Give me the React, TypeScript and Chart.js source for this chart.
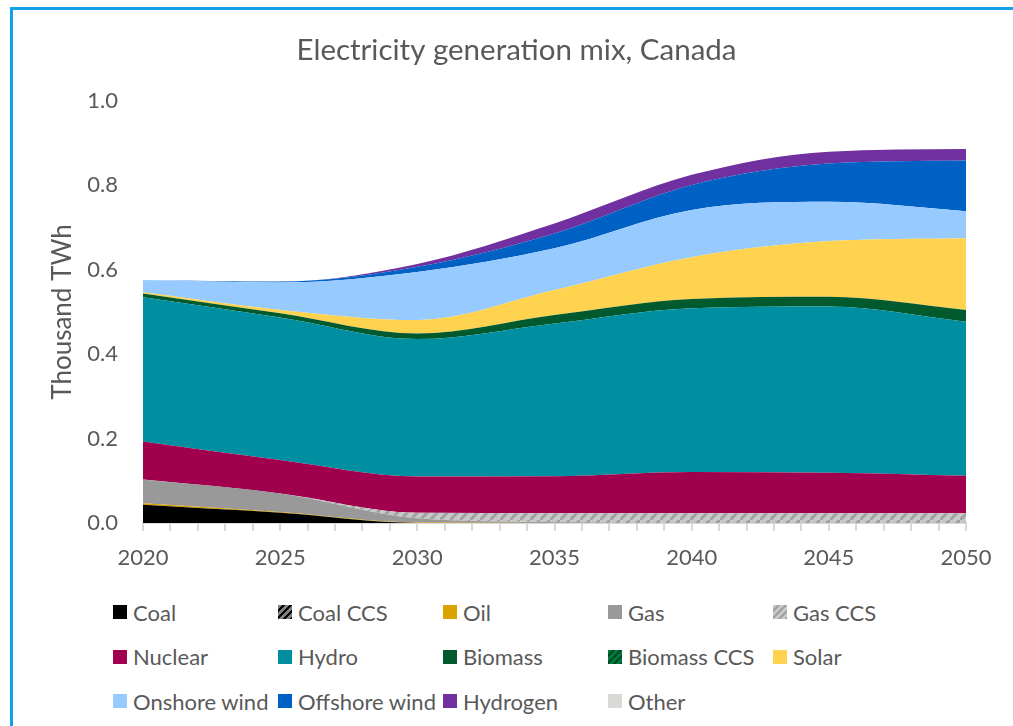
import React, { useEffect, useRef } from "react";
import { Chart, registerables } from "chart.js";

Chart.register(...registerables);

const TITLE = "Electricity generation mix, Canada";
const Y_TITLE = "Thousand TWh";
const years = [2020, 2025, 2030, 2035, 2040, 2045, 2050];

const coal = [0.043, 0.024, 0, 0, 0, 0, 0];
const coalCcs = [0, 0, 0, 0, 0, 0, 0];
const oil = [0.004, 0.002, 0.001, 0, 0, 0, 0];
const gas = [0.056, 0.044, 0.01, 0.002, 0, 0, 0];
const gasCcs = [0, 0, 0.013, 0.021, 0.023, 0.023, 0.023];
const nuclear = [0.09, 0.079, 0.086, 0.088, 0.098, 0.096, 0.089];
const hydro = [0.342, 0.338, 0.326, 0.362, 0.388, 0.394, 0.365];
const biomass = [0.009, 0.01, 0.013, 0.02, 0.022, 0.023, 0.028];
const biomassCcs = [0, 0, 0, 0, 0, 0, 0];
const solar = [0.003, 0.008, 0.032, 0.059, 0.099, 0.132, 0.17];
const onshoreWind = [0.029, 0.065, 0.114, 0.099, 0.112, 0.093, 0.064];
const offshoreWind = [0, 0.002, 0.012, 0.035, 0.059, 0.091, 0.12];
const hydrogen = [0, 0, 0.007, 0.024, 0.024, 0.028, 0.027];
const other = [0, 0, 0, 0, 0, 0, 0];

type Series = { label: string; data: number[]; color: string; stripe?: string };

const series: Series[] = [
  { label: "Coal", data: coal, color: "#000000" },
  { label: "Coal CCS", data: coalCcs, color: "#7F7F7F", stripe: "#000000" },
  { label: "Oil", data: oil, color: "#D9A300" },
  { label: "Gas", data: gas, color: "#999999" },
  { label: "Gas CCS", data: gasCcs, color: "#C8C8C8", stripe: "#A0A0A0" },
  { label: "Nuclear", data: nuclear, color: "#A1004F" },
  { label: "Hydro", data: hydro, color: "#008FA0" },
  { label: "Biomass", data: biomass, color: "#005A2E" },
  { label: "Biomass CCS", data: biomassCcs, color: "#007A3D", stripe: "#004A22" },
  { label: "Solar", data: solar, color: "#FFD24F" },
  { label: "Onshore wind", data: onshoreWind, color: "#97CAFE" },
  { label: "Offshore wind", data: offshoreWind, color: "#0061C4" },
  { label: "Hydrogen", data: hydrogen, color: "#7030A0" },
  { label: "Other", data: other, color: "#D9D9D6" },
];

const FONT = "Lato, 'Open Sans', sans-serif";
const TEXT = "#595959";

function makePattern(bg: string, fg: string): CanvasPattern | string {
  const c = document.createElement("canvas");
  c.width = 10;
  c.height = 10;
  const ctx = c.getContext("2d");
  if (!ctx) return bg;
  ctx.fillStyle = bg;
  ctx.fillRect(0, 0, 10, 10);
  ctx.strokeStyle = fg;
  ctx.lineWidth = 3;
  ctx.beginPath();
  ctx.moveTo(-2, 12);
  ctx.lineTo(12, -2);
  ctx.stroke();
  return ctx.createPattern(c, "repeat") || bg;
}

function legendSwatch(s: Series): React.CSSProperties {
  if (s.stripe) {
    return {
      background: `repeating-linear-gradient(135deg, ${s.color} 0px, ${s.color} 3px, ${s.stripe} 3px, ${s.stripe} 5px)`,
    };
  }
  return { background: s.color };
}

export default function App() {
  const ref = useRef<HTMLCanvasElement | null>(null);

  useEffect(() => {
    if (!ref.current) return;
    const datasets = series.map((s, i) => {
      const fill = s.stripe ? makePattern(s.color, s.stripe) : s.color;
      return {
        label: s.label,
        data: years.map((y, j) => ({ x: y, y: s.data[j] })),
        backgroundColor: fill as any,
        borderColor: s.color,
        borderWidth: 0,
        pointRadius: 0,
        fill: i === 0 ? "origin" : "-1",
        cubicInterpolationMode: "monotone" as const,
      };
    });
    const chart = new Chart(ref.current, {
      type: "line",
      data: { datasets },
      options: {
        animation: false,
        responsive: false,
        maintainAspectRatio: false,
        layout: { padding: { top: 0, left: 20, right: 0, bottom: 17 } },
        plugins: {
          legend: { display: false },
          tooltip: { enabled: false },
          title: {
            display: true,
            text: TITLE,
            color: TEXT,
            font: { family: FONT, size: 29.5, weight: "normal" },
            padding: { top: 33, bottom: 32.6 },
          },
        },
        scales: {
          x: {
            type: "linear",
            min: 2020,
            max: 2050,
            ticks: {
              stepSize: 1,
              autoSkip: false,
              maxRotation: 0,
              padding: 14,
              color: TEXT,
              font: { family: FONT, size: 22 },
              callback: (v: any) => (Number(v) % 5 === 0 ? String(v) : ""),
            },
            grid: {
              drawOnChartArea: false,
              drawTicks: true,
              tickLength: 8,
              color: "#D9D9D9",
              lineWidth: 2,
            },
            border: { display: true, color: "#D9D9D9", width: 2 },
            afterFit: (s: any) => {
              s.height = 50;
            },
          },
          y: {
            stacked: true,
            min: 0,
            max: 1,
            ticks: {
              stepSize: 0.2,
              padding: 25,
              color: TEXT,
              font: { family: FONT, size: 22 },
              callback: (v: any) => Number(v).toFixed(1),
            },
            grid: { display: false, drawTicks: false },
            border: { display: false },
            title: {
              display: true,
              text: Y_TITLE,
              color: TEXT,
              font: { family: FONT, size: 26, weight: "normal" },
              padding: { top: 27, bottom: 0 },
            },
            afterFit: (s: any) => {
              s.width = 123;
            },
          },
          yRight: {
            type: "linear",
            position: "right",
            display: true,
            min: 0,
            max: 1,
            ticks: { display: false },
            grid: { display: false, drawTicks: false },
            border: { display: false },
            afterFit: (s: any) => {
              s.width = 47;
            },
          },
        },
      } as any,
    });
    return () => chart.destroy();
  }, []);

  return (
    <div>
      <div
        style={{
          position: "absolute",
          left: 10,
          top: 7,
          width: 1003,
          height: 719,
          boxSizing: "border-box",
          borderTop: "3px solid #12A3E6",
          borderLeft: "3px solid #12A3E6",
        }}
      />
      <canvas
        ref={ref}
        width={1013}
        height={590}
        style={{ position: "absolute", left: 0, top: 0, width: 1013, height: 590 }}
      />
      <div
        style={{
          position: "absolute",
          left: 113,
          top: 590,
          display: "grid",
          gridTemplateColumns: "repeat(5, 165px)",
          gridAutoRows: "44.5px",
          fontFamily: FONT,
          fontSize: 22,
          color: TEXT,
        }}
      >
        {series.map((s) => (
          <div key={s.label} style={{ display: "flex", alignItems: "center", whiteSpace: "nowrap" }}>
            <span style={{ width: 14, height: 14, marginRight: 6, flex: "none", ...legendSwatch(s) }} />
            <span>{s.label}</span>
          </div>
        ))}
      </div>
    </div>
  );
}
